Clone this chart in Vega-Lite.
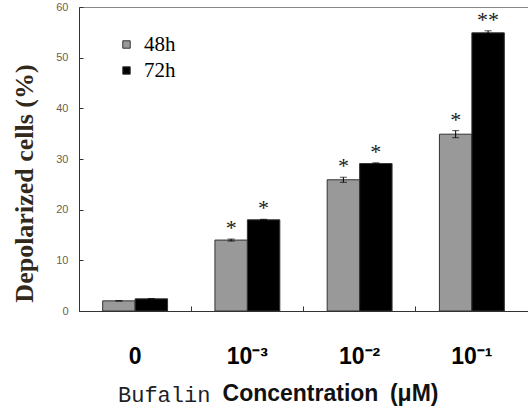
{
  "$schema": "https://vega.github.io/schema/vega-lite/v6.json",
  "width": 449,
  "height": 304,
  "autosize": "none",
  "padding": {"left": 79, "top": 7, "right": 0, "bottom": 97},
  "background": "white",
  "config": {"view": {"stroke": null}},
  "title": {"text": "Bufalin", "orient": "bottom", "anchor": "start", "frame": "group", "font": "Liberation Mono", "fontSize": 22, "fontWeight": "normal", "color": "#1e1e28", "dx": 39, "dy": -20, "offset": 0},
  "data": {"values": [
    {"conc": "0", "time": "48h", "value": 2.0, "lo": 2.0, "hi": 2.0, "sig": ""},
    {"conc": "0", "time": "72h", "value": 2.4, "lo": 2.4, "hi": 2.4, "sig": ""},
    {"conc": "10⁻³", "time": "48h", "value": 14.0, "lo": 13.8, "hi": 14.2, "sig": "*"},
    {"conc": "10⁻³", "time": "72h", "value": 18.0, "lo": 17.9, "hi": 18.1, "sig": "*"},
    {"conc": "10⁻²", "time": "48h", "value": 25.9, "lo": 25.4, "hi": 26.4, "sig": "*"},
    {"conc": "10⁻²", "time": "72h", "value": 29.1, "lo": 28.95, "hi": 29.25, "sig": "*"},
    {"conc": "10⁻¹", "time": "48h", "value": 34.9, "lo": 34.2, "hi": 35.6, "sig": "*"},
    {"conc": "10⁻¹", "time": "72h", "value": 54.9, "lo": 54.5, "hi": 55.3, "sig": "**"}
  ]},
  "layer": [
    {
      "mark": {"type": "bar", "stroke": "#333333", "strokeWidth": 1},
      "encoding": {
        "x": {"field": "conc", "type": "nominal", "sort": null,
          "scale": {"paddingInner": 0, "paddingOuter": 0},
          "axis": {"orient": "bottom", "title": "Concentration\u2002(μM)", "labelAngle": 0,
            "labelFont": "Liberation Sans", "labelFontWeight": "bold", "labelFontSize": 23, "labelColor": "#000000",
            "labelPadding": 39, "labelBaseline": "top", "bandPosition": 0,
            "tickSize": -5, "tickColor": "#333333", "domainColor": "#333333", "grid": false,
            "titleFont": "Liberation Sans", "titleFontWeight": "bold", "titleFontSize": 23, "titleColor": "#111111",
            "titleX": 251, "titleY": 89, "titleBaseline": "alphabetic", "titleAlign": "center"}},
        "xOffset": {"field": "time", "type": "nominal", "scale": {"paddingInner": 0, "paddingOuter": 0.73}},
        "y": {"field": "value", "type": "quantitative", "scale": {"domain": [0, 60]},
          "axis": {"orient": "left", "title": "Depolarized cells (%)", "values": [0, 10, 20, 30, 40, 50, 60], "grid": false,
            "tickSize": -4, "labelPadding": 15, "labelFont": "Liberation Sans", "labelFontSize": 11, "labelColor": "#6a5f4c",
            "domainColor": "#333333", "tickColor": "#333333",
            "titleFont": "Liberation Serif", "titleFontWeight": "bold", "titleFontSize": 26, "titleColor": "#33291a",
            "titleX": -55, "titleY": 176, "titleAngle": -90, "titleAlign": "center", "titleBaseline": "middle"}},
        "color": {"field": "time", "type": "nominal",
          "scale": {"domain": ["48h", "72h"], "range": ["#999999", "#000000"]},
          "legend": {"orient": "none", "legendX": 37, "legendY": 27, "title": null, "symbolType": "square", "symbolSize": 55,
            "symbolStrokeColor": "#333333", "symbolStrokeWidth": 1, "labelFont": "Liberation Serif", "labelFontSize": 21,
            "labelColor": "#000000", "rowPadding": 4, "labelOffset": 7}}
      }
    },
    {
      "mark": {"type": "rule", "color": "#000000", "strokeWidth": 1},
      "encoding": {
        "x": {"field": "conc", "type": "nominal", "sort": null, "scale": {"paddingInner": 0, "paddingOuter": 0}, "axis": null},
        "xOffset": {"field": "time", "type": "nominal", "scale": {"paddingInner": 0, "paddingOuter": 0.73}},
        "y": {"field": "lo", "type": "quantitative", "axis": {"title": "Depolarized cells (%)"}},
        "y2": {"field": "hi"}
      }
    },
    {
      "mark": {"type": "tick", "color": "#000000", "size": 7, "thickness": 1},
      "encoding": {
        "x": {"field": "conc", "type": "nominal", "sort": null, "scale": {"paddingInner": 0, "paddingOuter": 0}, "axis": null},
        "xOffset": {"field": "time", "type": "nominal", "scale": {"paddingInner": 0, "paddingOuter": 0.73}},
        "y": {"field": "hi", "type": "quantitative", "axis": {"title": "Depolarized cells (%)"}}
      }
    },
    {
      "mark": {"type": "tick", "color": "#000000", "size": 7, "thickness": 1},
      "encoding": {
        "x": {"field": "conc", "type": "nominal", "sort": null, "scale": {"paddingInner": 0, "paddingOuter": 0}, "axis": null},
        "xOffset": {"field": "time", "type": "nominal", "scale": {"paddingInner": 0, "paddingOuter": 0.73}},
        "y": {"field": "lo", "type": "quantitative", "axis": {"title": "Depolarized cells (%)"}}
      }
    },
    {
      "mark": {"type": "text", "font": "Liberation Serif", "fontSize": 22, "color": "#1a1a1a", "baseline": "alphabetic", "dy": -4},
      "encoding": {
        "x": {"field": "conc", "type": "nominal", "sort": null, "scale": {"paddingInner": 0, "paddingOuter": 0},
          "axis": {"orient": "top", "labels": false, "ticks": false, "title": null, "domain": true, "domainColor": "#888888", "grid": false}},
        "xOffset": {"field": "time", "type": "nominal", "scale": {"paddingInner": 0, "paddingOuter": 0.73}},
        "y": {"field": "hi", "type": "quantitative", "axis": {"title": "Depolarized cells (%)"}},
        "text": {"field": "sig"}
      }
    }
  ]
}
